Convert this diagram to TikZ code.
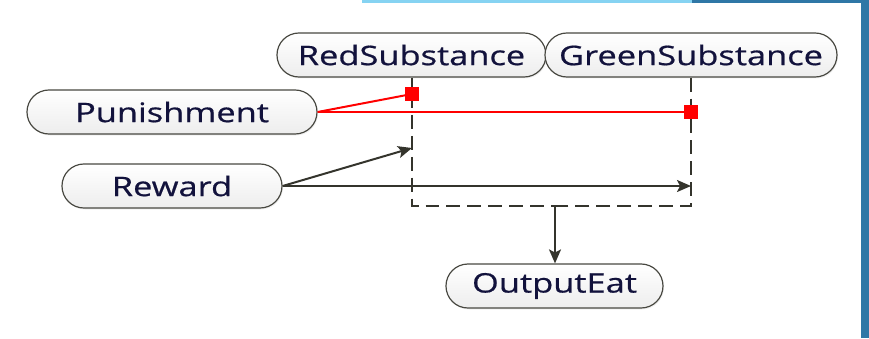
\documentclass[tikz,border=0pt]{standalone}
\usepackage{fontspec}
\newfontfamily\blockfont{Open Sans}[FakeStretch=1.28,FakeBold=0.6]
\usetikzlibrary{arrows.meta,shadows}

\definecolor{barlight}{RGB}{134,211,242}
\definecolor{bardark}{RGB}{47,119,166}
\definecolor{wire}{RGB}{52,52,44}
\definecolor{labelink}{RGB}{18,18,60}

\begin{document}
\begin{tikzpicture}[
    x=1bp,y=-1bp,
    block/.style={draw=wire!90,line width=1.2pt,rounded corners=22pt,
      minimum height=44bp,inner sep=0pt,top color=white,bottom color=gray!14,
      text=labelink,font=\blockfont\fontsize{27}{30}\selectfont,
      drop shadow={opacity=0.12,shadow xshift=1pt,shadow yshift=-1.5pt}},
    bus/.style={draw=wire,line width=2pt,dash pattern=on 14pt off 7pt},
    excite/.style={draw=wire,line width=2pt,-{Stealth[length=14pt,width=12pt,inset=3pt]}},
    inhibit/.style={draw=red,line width=2pt},
    inhbox/.style={fill=red,minimum size=14bp,inner sep=0pt}
  ]

  \useasboundingbox (0,0) rectangle (869,338);

  % frame bits along the top and right edge
  \fill[barlight] (362,0) rectangle (692,3);
  \fill[bardark] (692,0) rectangle (869,3);
  \fill[bardark] (861,0) rectangle (869,338);

  \node[block,minimum width=269bp] (red) at (411.5,55) {RedSubstance};
  \node[block,minimum width=292bp] (green) at (691,55) {GreenSubstance};
  \node[block,minimum width=290bp] (pun) at (172,112) {Punishment};
  \node[block,minimum width=220bp] (rew) at (172,186) {Reward};
  \node[block,minimum width=217bp] (eat) at (554.5,286) {OutputEat};

  \coordinate (redinh) at (412,94);
  \coordinate (greeninh) at (691,112);
  \coordinate (redexc) at (412,148);
  \coordinate (greenexc) at (691,186);
  \coordinate (redend) at (412,206);
  \coordinate (greenend) at (691,206);
  \coordinate (join) at (555,206);

  % substance lines and the merge into OutputEat
  \draw[draw=wire,line width=2pt] (red.south-|redinh) -- (redinh);
  \draw[bus] (redinh) -- (redend) -- (join);
  \draw[bus] (green.south-|greeninh) -- (greenend) -- (join);
  \draw[excite] (join) -- (eat.north-|join);

  \draw[excite] (rew.east) -- (redexc);
  \draw[excite] (rew.east) -- (greenexc);

  \draw[inhibit] (pun.east) -- (redinh);
  \draw[inhibit] (pun.east) -- (greeninh);
  \node[inhbox] (redsq) at (redinh) {};
  \node[inhbox] (greensq) at (greeninh) {};

\end{tikzpicture}
\end{document}
